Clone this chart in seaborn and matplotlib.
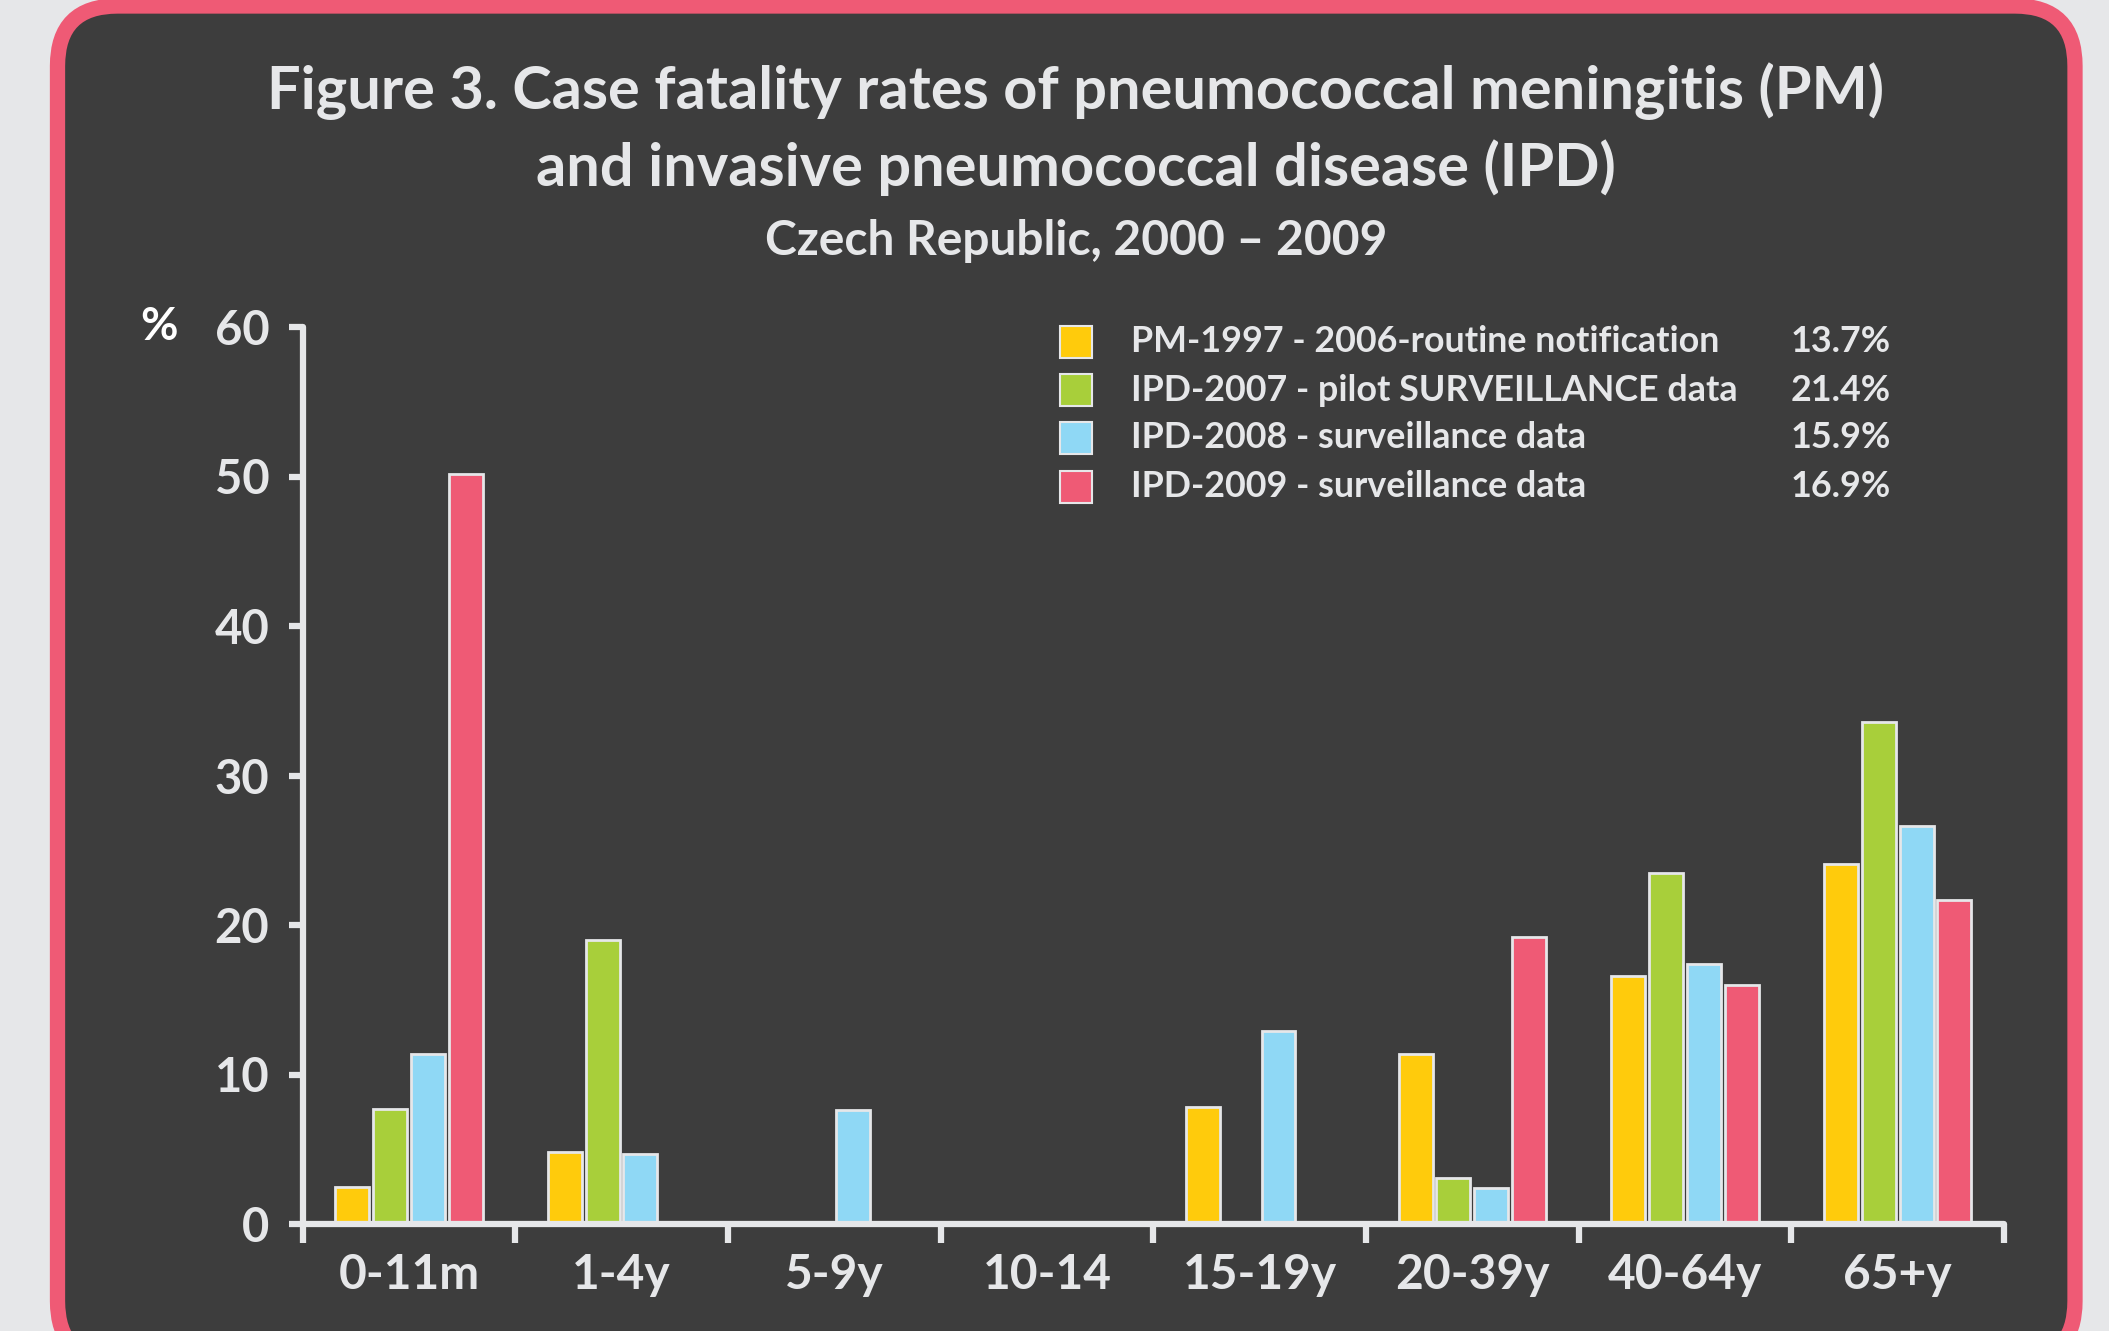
import pandas as pd
import numpy as np
import matplotlib.pyplot as plt
import seaborn as sns
from matplotlib.patches import FancyBboxPatch, Rectangle

# Data (case fatality, %)
age_groups = ['0-11m', '1-4y', '5-9y', '10-14', '15-19y', '20-39y', '40-64y', '65+y']
series = ['PM-1997 - 2006-routine notification',
          'IPD-2007 - pilot SURVEILLANCE data',
          'IPD-2008 - surveillance data',
          'IPD-2009 - surveillance data']
overall = ['13.7%', '21.4%', '15.9%', '16.9%']
pm_1997_2006 = [2.5, 4.8, np.nan, np.nan, 7.8, 11.4, 16.6, 24.1]
ipd_2007 = [7.7, 19.0, np.nan, np.nan, np.nan, 3.1, 23.5, 33.6]
ipd_2008 = [11.4, 4.7, 7.6, np.nan, 12.9, 2.4, 17.4, 26.6]
ipd_2009 = [50.2, np.nan, np.nan, np.nan, np.nan, 19.2, 16.0, 21.7]
colors = ['#ffcb0c', '#a8cf3a', '#8fd8f5', '#ef5a75']

# long format, drop the missing bars
frames = []
for name, vals in zip(series, [pm_1997_2006, ipd_2007, ipd_2008, ipd_2009]):
    frames.append(pd.DataFrame({'age': age_groups, 'rate': vals, 'series': name}))
df = pd.concat(frames).dropna()

# Style
sns.set_style('ticks')
plt.rcParams['font.family'] = ['Lato', 'DejaVu Sans']
plt.rcParams['font.weight'] = 'bold'

W, H = 2109, 1331
LIGHT = '#e6e7e9'
DARK = '#3d3d3d'
PINK = '#ef5a75'

fig = plt.figure(figsize=(W / 100, H / 100), dpi=100, facecolor=LIGHT)

def fx(x):
    return x / W

def fy(y):
    return 1 - y / H

# rounded panel with pink border
panel = FancyBboxPatch((57.5 / 100, -30 / 100), (2075 - 57.5) / 100, (H + 30 - 6) / 100,
                       boxstyle='round,pad=0,rounding_size=0.6',
                       transform=fig.dpi_scale_trans, facecolor=DARK,
                       edgecolor=PINK, linewidth=11, zorder=-1)
fig.add_artist(panel)

ax = fig.add_axes([fx(302.6), fy(1224), fx(2004 - 302.6), (1224 - 327) / H])
ax.set_facecolor('none')

sns.barplot(data=df, x='age', y='rate', hue='series', order=age_groups,
            hue_order=series, palette=colors, saturation=1, width=0.71, gap=0.1,
            edgecolor=LIGHT, linewidth=2, legend=False, ax=ax)

ax.set_xlim(-0.5, 7.5)
ax.set_ylim(0, 60)
ax.set_xlabel('')
ax.set_ylabel('')
for s in ['top', 'right']:
    ax.spines[s].set_visible(False)
for s in ['left', 'bottom']:
    ax.spines[s].set_color(LIGHT)
    ax.spines[s].set_linewidth(4.5)
    ax.spines[s].set_capstyle('round')

ax.set_xticks(np.arange(-0.5, 8, 1))
ax.set_xticklabels([])
ax.set_xticks(range(len(age_groups)), minor=True)
ax.set_xticklabels(age_groups, minor=True)
ax.tick_params(axis='x', which='major', length=14, width=4.5, color=LIGHT)
ax.tick_params(axis='x', which='minor', length=0, pad=21, labelsize=34.5, labelcolor=LIGHT)
ax.set_yticks(range(0, 61, 10))
ax.tick_params(axis='y', length=10, width=4.5, color=LIGHT, pad=14,
               labelsize=34, labelcolor=LIGHT)

# titles
fig.text(fx(1076), fy(91), 'Figure 3. Case fatality rates of pneumococcal meningitis (PM)',
         ha='center', va='center', fontsize=42.8, color=LIGHT, weight='bold')
fig.text(fx(1076), fy(168), 'and invasive pneumococcal disease (IPD)',
         ha='center', va='center', fontsize=42.8, color=LIGHT, weight='bold')
fig.text(fx(1076), fy(241), 'Czech Republic, 2000 \u2013 2009',
         ha='center', va='center', fontsize=34.5, color=LIGHT, weight='bold')
fig.text(fx(159), fy(327), '%', ha='center', va='center', fontsize=33,
         color='white', weight='bold')

# legend with overall rates
rows_y = [342, 390, 438, 487]
for name, col, pct, ry in zip(series, colors, overall, rows_y):
    fig.add_artist(Rectangle((fx(1060), fy(ry + 16)), 32 / W, 32 / H,
                             facecolor=col, edgecolor=LIGHT, linewidth=1.5,
                             transform=fig.transFigure))
    fig.text(fx(1131), fy(ry), name, ha='left', va='center', fontsize=25.8,
             color=LIGHT, weight='bold')
    fig.text(fx(1891), fy(ry), pct, ha='right', va='center', fontsize=25.8,
             color=LIGHT, weight='bold')

fig.savefig('out.png', dpi=100, facecolor=LIGHT)
